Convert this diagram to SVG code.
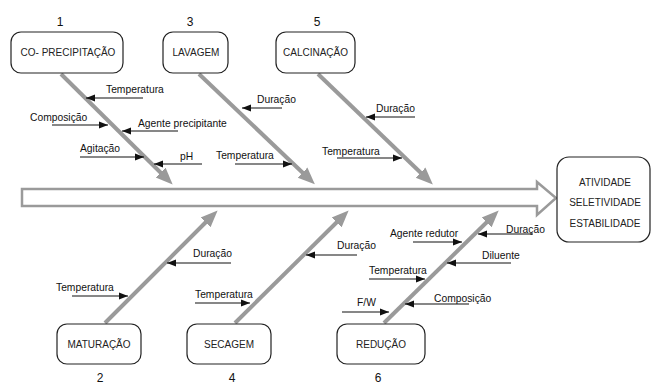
<svg xmlns="http://www.w3.org/2000/svg" width="652" height="384" viewBox="0 0 652 384">
<style>
  .box { fill: #fff; stroke: #222; stroke-width: 1.2; }
  .bt { font-family: "Liberation Sans", Arial, sans-serif; font-size: 10px; fill: #222; text-anchor: middle; }
  .num { font-family: "Liberation Sans", Arial, sans-serif; font-size: 12px; fill: #111; text-anchor: middle; }
  .lbl { font-family: "Liberation Sans", Arial, sans-serif; font-size: 10.3px; fill: #111; }
  .bone { stroke: #9a9a9a; stroke-width: 4; fill: none; marker-end: url(#gh); }
  .cause { stroke: #111; stroke-width: 1.2; fill: none; marker-end: url(#bh); }
  .spine { fill: #fff; stroke: #9a9a9a; stroke-width: 2.5; stroke-linejoin: miter; }
</style>
<defs>
  <marker id="gh" markerUnits="userSpaceOnUse" markerWidth="18" markerHeight="16" viewBox="0 -8 18 16" refX="2" refY="0" orient="auto">
    <path d="M0,-7 L17,0 L0,7 Z" fill="#9a9a9a"/>
  </marker>
  <marker id="bh" markerUnits="userSpaceOnUse" markerWidth="10" markerHeight="8" viewBox="0 -4 10 8" refX="9" refY="0" orient="auto">
    <path d="M0,-3.5 L9,0 L0,3.5 Z" fill="#111"/>
  </marker>
</defs>
<rect width="652" height="384" fill="#fff"/>

<g id="spine">
  <path class="spine" d="M22,189 L537,189 L537,182 L556,198 L537,215 L537,206 L22,206 Z"/>
</g>

<g id="connectors">
  <line class="bone" x1="61" y1="74" x2="162" y2="174"/>
  <line class="bone" x1="199" y1="74" x2="304" y2="174"/>
  <line class="bone" x1="318" y1="74" x2="422" y2="174"/>
  <line class="bone" x1="105" y1="323" x2="207" y2="221"/>
  <line class="bone" x1="235" y1="323" x2="338" y2="221"/>
  <line class="bone" x1="384" y1="323" x2="488" y2="221"/>

  <line class="cause" x1="143" y1="98" x2="86" y2="98"/>
  <line class="cause" x1="52" y1="125" x2="108" y2="125"/>
  <line class="cause" x1="178" y1="131" x2="122" y2="131"/>
  <line class="cause" x1="80" y1="157" x2="144" y2="157"/>
  <line class="cause" x1="202" y1="164" x2="154" y2="164"/>
  <line class="cause" x1="282" y1="108" x2="242" y2="108"/>
  <line class="cause" x1="235" y1="164" x2="292" y2="164"/>
  <line class="cause" x1="415" y1="117" x2="366" y2="117"/>
  <line class="cause" x1="337" y1="158" x2="402" y2="158"/>
  <line class="cause" x1="231" y1="263" x2="167" y2="263"/>
  <line class="cause" x1="72" y1="296" x2="128" y2="296"/>
  <line class="cause" x1="357" y1="255" x2="306" y2="255"/>
  <line class="cause" x1="195" y1="303" x2="250" y2="303"/>
  <line class="cause" x1="413" y1="242" x2="462" y2="242"/>
  <line class="cause" x1="533" y1="234" x2="478" y2="234"/>
  <line class="cause" x1="511" y1="263" x2="447" y2="263"/>
  <line class="cause" x1="369" y1="279" x2="425" y2="279"/>
  <line class="cause" x1="342" y1="312" x2="389" y2="312"/>
  <line class="cause" x1="469" y1="304" x2="405" y2="304"/>
</g>

<g id="labels">
  <text class="lbl" x="106" y="93">Temperatura</text>
  <text class="lbl" x="30" y="121">Composição</text>
  <text class="lbl" x="138" y="127">Agente precipitante</text>
  <text class="lbl" x="80" y="152">Agitação</text>
  <text class="lbl" x="180" y="160">pH</text>
  <text class="lbl" x="257" y="103">Duração</text>
  <text class="lbl" x="216" y="159">Temperatura</text>
  <text class="lbl" x="376" y="112">Duração</text>
  <text class="lbl" x="322" y="155">Temperatura</text>
  <text class="lbl" x="193" y="257">Duração</text>
  <text class="lbl" x="56" y="291">Temperatura</text>
  <text class="lbl" x="337" y="249">Duração</text>
  <text class="lbl" x="195" y="298">Temperatura</text>
  <text class="lbl" x="390" y="237">Agente redutor</text>
  <text class="lbl" x="506" y="233">Duração</text>
  <text class="lbl" x="482" y="259">Diluente</text>
  <text class="lbl" x="369" y="274">Temperatura</text>
  <text class="lbl" x="357" y="306">F/W</text>
  <text class="lbl" x="434" y="302">Composição</text>
</g>

<g id="node1">
  <text class="num" x="60" y="26">1</text>
  <rect class="box" x="11" y="32" width="112" height="41" rx="10"/>
  <text class="bt" x="68" y="55.5">CO- PRECIPITAÇÃO</text>
</g>
<g id="node3">
  <text class="num" x="190" y="26">3</text>
  <rect class="box" x="163" y="32" width="65" height="41" rx="10"/>
  <text class="bt" x="196" y="55.5">LAVAGEM</text>
</g>
<g id="node5">
  <text class="num" x="317" y="26">5</text>
  <rect class="box" x="276" y="32" width="79" height="41" rx="10"/>
  <text class="bt" x="315.5" y="55.5">CALCINAÇÃO</text>
</g>
<g id="node2">
  <rect class="box" x="57" y="324" width="84" height="40" rx="10"/>
  <text class="bt" x="99" y="347.5">MATURAÇÃO</text>
  <text class="num" x="100" y="382">2</text>
</g>
<g id="node4">
  <rect class="box" x="187" y="324" width="84" height="40" rx="10"/>
  <text class="bt" x="229" y="347.5">SECAGEM</text>
  <text class="num" x="232" y="382">4</text>
</g>
<g id="node6">
  <rect class="box" x="337" y="324" width="88" height="40" rx="10"/>
  <text class="bt" x="381" y="347.5">REDUÇÃO</text>
  <text class="num" x="378" y="382">6</text>
</g>
<g id="effect">
  <rect class="box" x="557" y="157" width="93" height="85" rx="12"/>
  <text class="bt" x="605" y="185.5">ATIVIDADE</text>
  <text class="bt" x="605" y="205.5">SELETIVIDADE</text>
  <text class="bt" x="605" y="226.5">ESTABILIDADE</text>
</g>
</svg>
